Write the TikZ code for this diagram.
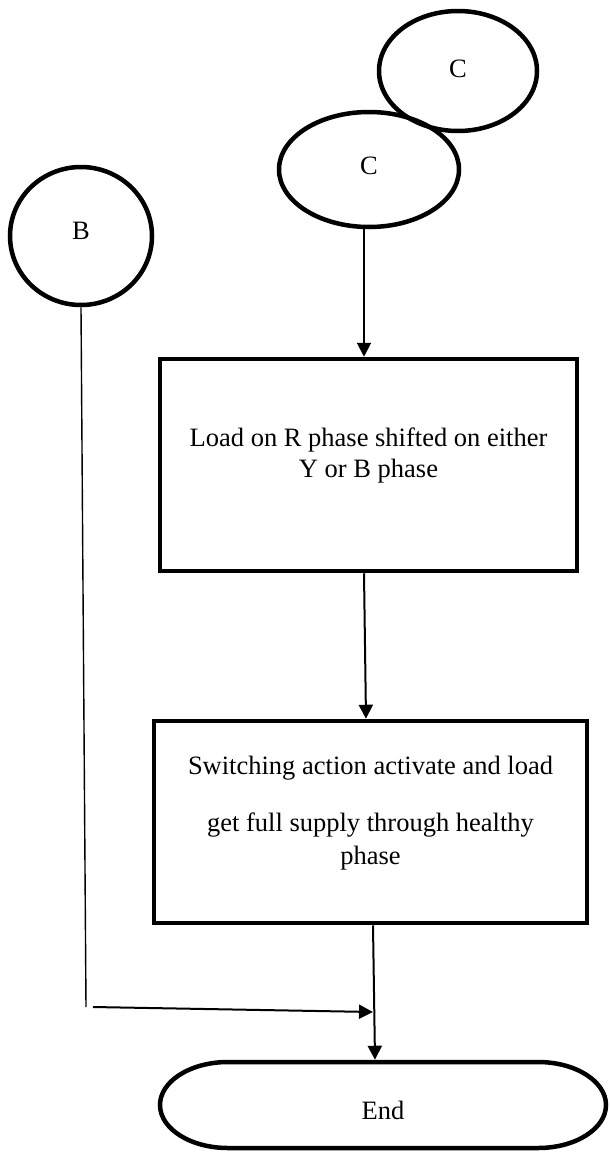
\documentclass[tikz,border=0pt]{standalone}
\usepackage{fontspec}
\setmainfont{Liberation Serif}
\usetikzlibrary{arrows.meta,calc,shapes.geometric}
\begin{document}
\begin{tikzpicture}[x=1pt,y=1pt,
  every node/.style={font=\fontsize{26.5}{30.3}\selectfont, inner sep=0pt},
  conn/.style={draw, ellipse, line width=4.5pt, minimum width=#1},
  procbox/.style={draw, rectangle, line width=4.5pt},
  arr/.style={line width=2pt, -{Triangle[length=14pt,width=14pt]}},
  thinline/.style={line width=1.4pt},
  txt/.style={anchor=base, align=center}
]
\useasboundingbox (0,0) rectangle (610,-1154);

% connectors (circles)
\node[conn=158pt, minimum height=120pt, label={[anchor=base,yshift=2.2pt]center:C}] (ctop) at (458,-71) {};
\node[conn=180pt, minimum height=115pt, label={[anchor=base,yshift=3.8pt]center:C}] (c2) at (369,-169.5) {};
\node[conn=142pt, minimum height=138pt, label={[anchor=base,yshift=5.2pt]center:B}] (b) at (81,-236) {};

% process boxes
\node[procbox, minimum width=417pt, minimum height=212pt] (box1) at (368.5,-465) {};
\node[txt] (t1) at (368.5,-477) {Load on R phase shifted on either\\Y or B phase};

\node[procbox, minimum width=433pt, minimum height=202pt] (box2) at (370.5,-822) {};
\node[txt, font=\fontsize{26.5}{33}\selectfont] (t2) at (370.5,-864) {Switching action activate and load\\[24pt]get full supply through healthy\\phase};

% terminator
\node[rectangle, minimum width=446pt, minimum height=86pt, outer sep=0pt,
      label={[anchor=base,yshift=-5pt]center:End}] (endn) at (383,-1105) {};
\draw[line width=4.5pt]
  ($(endn.north west)+(68,0)$) -- ($(endn.north east)+(-68,0)$)
  arc[start angle=90, end angle=-90, x radius=68, y radius=43]
  -- ($(endn.south west)+(68,0)$)
  arc[start angle=270, end angle=90, x radius=68, y radius=43] -- cycle;

% arrows
\draw[arr] ([xshift=-5pt]c2.south) -- ([xshift=-4.5pt]box1.north);
\draw[arr] ([xshift=-4.5pt]box1.south) -- ([xshift=-4.5pt]box2.north);
\draw[arr] ([xshift=2.5pt]box2.south) -- ([xshift=-8pt,yshift=2.25pt]endn.north);

% B line
\coordinate (bl) at (86,-1007);
\coordinate (bs) at (93,-1007);
\coordinate (bm) at (373,-1012);
\draw[thinline] (b.south) -- (bl);
\draw[arr] (bs) -- (bm);
\end{tikzpicture}
\end{document}
